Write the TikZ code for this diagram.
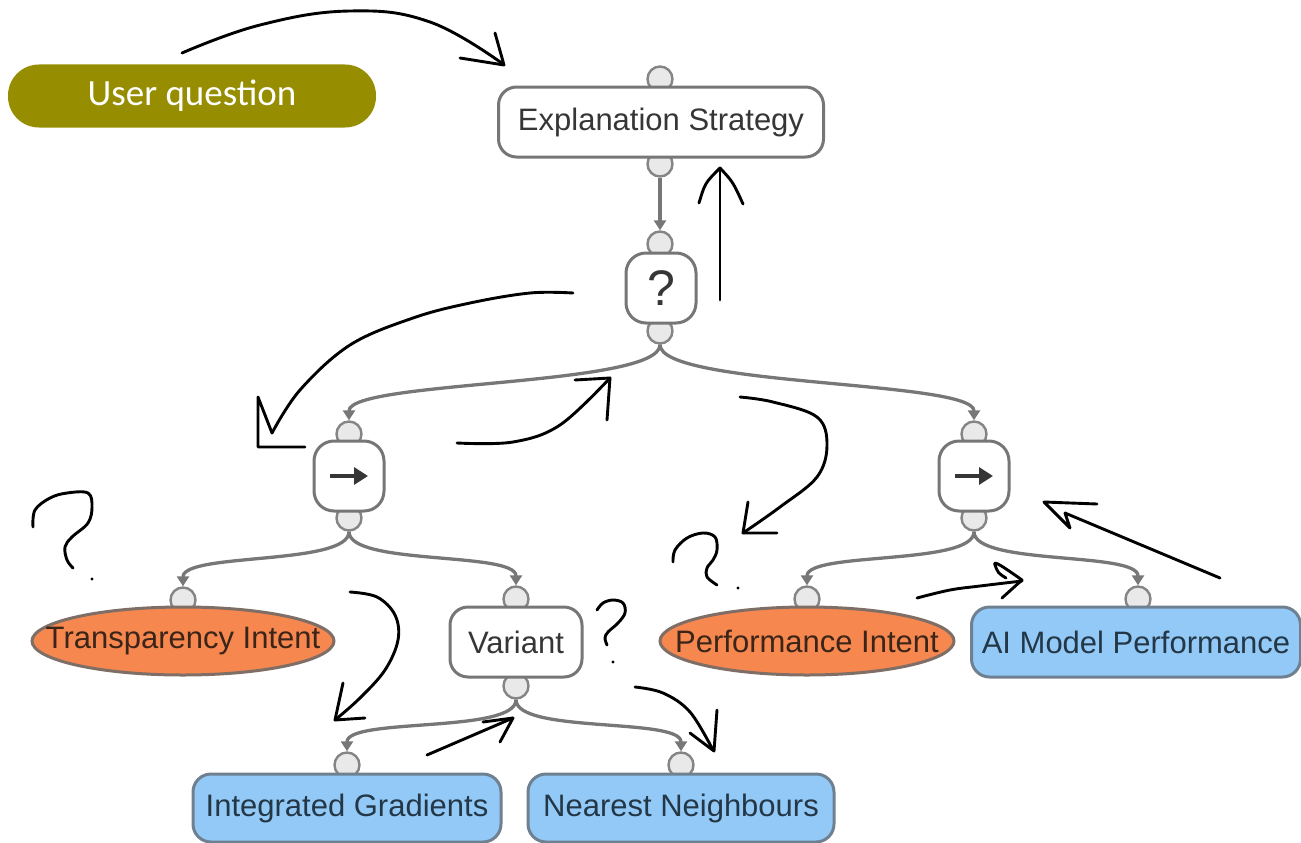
\documentclass[tikz,border=0pt]{standalone}
\usepackage{fontspec}
\setmainfont{Liberation Sans}
\newfontfamily\calibri{Carlito}
\usetikzlibrary{arrows.meta,shapes.geometric}

\definecolor{uqolive}{HTML}{968E00}
\definecolor{edgegray}{HTML}{777777}
\definecolor{portfill}{HTML}{E9E9E9}
\definecolor{portdraw}{HTML}{858585}
\definecolor{boxdraw}{HTML}{767676}
\definecolor{boxtext}{HTML}{363636}
\definecolor{intentfill}{HTML}{F5874F}
\definecolor{intentdraw}{HTML}{7E6E66}
\definecolor{intenttext}{HTML}{3B2418}
\definecolor{leaffill}{HTML}{92C9F7}
\definecolor{leafdraw}{HTML}{6F8090}
\definecolor{leaftext}{HTML}{243746}

\begin{document}
\begin{tikzpicture}[x=1pt,y=-1pt,
  nodefont/.style={font=\fontsize{31}{36}\selectfont},
  box/.style={draw=boxdraw, line width=3pt, rounded corners=18pt, fill=white,
    text=boxtext, nodefont, inner sep=0pt, minimum height=70pt},
  ctrl/.style={box, minimum width=70pt, minimum height=70pt, rounded corners=20pt},
  leaf/.style={box, fill=leaffill, draw=leafdraw, text=leaftext},
  intent/.style={ellipse, draw=intentdraw, fill=intentfill, line width=3pt,
    minimum width=302pt, minimum height=68pt, inner sep=0pt},
  intentlabel/.style={text=intenttext, nodefont, inner sep=0pt},
  uqbox/.style={fill=uqolive, rounded corners=31pt, minimum width=368pt,
    minimum height=63pt, text=white, font=\calibri\fontsize{37}{40}\selectfont},
  port/.style={circle, draw=portdraw, fill=portfill, line width=2.4pt,
    minimum size=25pt, inner sep=0pt},
  edge/.style={draw=edgegray, line width=3.3pt, -{Triangle[length=10pt,width=12pt]}},
  seqarrow/.style={draw=boxtext, line width=3.2pt, -{Triangle[length=14pt,width=17pt]}},
  hand/.style={draw=black, line width=2.9pt, line cap=round, line join=round},
  handdot/.style={fill=black}
]
\useasboundingbox (0,0) rectangle (1301,843);

% ports (drawn first so that the boxes overlap them)
\node[port] (es-in)   at (660,79)  {};
\node[port] (es-out)  at (660,164) {};
\node[port] (sel-in)  at (660,244) {};
\node[port] (sel-out) at (660,331) {};
\node[port] (seqL-in)  at (349,434) {};
\node[port] (seqL-out) at (349,518) {};
\node[port] (seqR-in)  at (974,434) {};
\node[port] (seqR-out) at (974,518) {};
\node[port] (ti-in)   at (183,600) {};
\node[port] (var-in)  at (516,599) {};
\node[port] (var-out) at (516,686) {};
\node[port] (pi-in)   at (807,599) {};
\node[port] (ai-in)   at (1138,599) {};
\node[port] (ig-in)   at (347,765) {};
\node[port] (nn-in)   at (681,765) {};

% tree nodes
\node[uqbox] (uq) at (192,96) {User question};
\node[box, minimum width=325pt] (es) at (661,122) {Explanation Strategy};
\node[ctrl] (sel) at (661,288) {\fontsize{50}{50}\selectfont ?};
\node[ctrl] (seqL) at (349,476) {};
\node[ctrl] (seqR) at (974,476) {};
\draw[seqarrow] ([xshift=-19pt]seqL.center) -- ([xshift=19pt]seqL.center);
\draw[seqarrow] ([xshift=-19pt]seqR.center) -- ([xshift=19pt]seqR.center);
\node[intent, label={[intentlabel]center:Transparency Intent}] (ti) at (183,641) {};
\node[box, minimum width=132pt] (var) at (516,642) {Variant};
\node[intent, minimum width=294pt, label={[intentlabel]center:Performance Intent}] (pi) at (807,641) {};
\node[leaf, minimum width=329pt] (ai) at (1136,642) {AI Model Performance};
\node[leaf, minimum width=308pt, minimum height=68pt] (ig) at (347,808) {Integrated Gradients};
\node[leaf, minimum width=306pt, minimum height=68pt] (nn) at (681,808) {Nearest Neighbours};

% tree edges
\draw[edge] (es-out.south) -- (sel-in.north);
\draw[edge] (sel-out.south) .. controls +(0,42) and +(0,-40) .. (seqL-in.north);
\draw[edge] (sel-out.south) .. controls +(0,42) and +(0,-40) .. (seqR-in.north);
\draw[edge] (seqL-out.south) .. controls +(0,34) and +(0,-34) .. (ti-in.north);
\draw[edge] (seqL-out.south) .. controls +(0,34) and +(0,-34) .. (var-in.north);
\draw[edge] (seqR-out.south) .. controls +(0,34) and +(0,-34) .. (pi-in.north);
\draw[edge] (seqR-out.south) .. controls +(0,34) and +(0,-34) .. (ai-in.north);
\draw[edge] (var-out.south) .. controls +(0,34) and +(0,-34) .. (ig-in.north);
\draw[edge] (var-out.south) .. controls +(0,34) and +(0,-34) .. (nn-in.north);

% hand-drawn annotation strokes
\draw[hand] plot[smooth, tension=0.7] coordinates {(182,53) (260,25) (350,11) (430,22) (503,64)};
\draw[hand] (495,33) -- (504,65) -- (460,58);

\draw[hand] (720,300) -- (720,170);
\draw[hand] (699,203) .. controls (705,183) .. (720,168) .. controls (733,182) .. (743,204);

\draw[hand] plot[smooth, tension=0.6] coordinates {(573,293) (530,293) (470,303) (413,318) (350,345) (300,390) (272,433)};
\draw[hand] (272,433) -- (258,397) -- (258,447) -- (305,447);

\draw[hand] plot[smooth, tension=0.6] coordinates {(457,443) (513,442) (560,425) (610,378)};
\draw[hand] (575,380) -- (610,378) -- (607,420);

\draw[hand] plot[smooth, tension=0.6] coordinates {(740,397) (773,402) (817,417) (827,445) (817,477) (780,507) (743,533)};
\draw[hand] (748,502) -- (743,533) -- (777,533);

\draw[hand] plot[smooth, tension=0.6] coordinates {(917,598) (950,590) (980,586) (1022,581)};
\draw[hand] (1002,598) -- (1022,580) .. controls (1005,568) and (992,559) .. (995,565) .. controls (998,573) .. (1006,578);

\draw[hand] (1220,578) -- (1065,513) -- (1070,528) -- (1044,502) -- (1097,504);

\draw[hand] plot[smooth, tension=0.6] coordinates {(350,592) (377,597) (395,615) (398,640) (385,670) (360,698) (335,720)};
\draw[hand] (343,683) -- (335,720) -- (365,718);

\draw[hand] (427,755) -- (513,718);
\draw[hand] (483,722) -- (513,718) -- (500,742);

\draw[hand] plot[smooth, tension=0.6] coordinates {(635,687) (663,693) (690,712) (713,750)};
\draw[hand] (690,733) -- (714,751) -- (717,710);

% hand-drawn question marks
\draw[hand] plot[smooth, tension=0.6] coordinates {(33,527) (35,510) (50,498) (67,493) (88,493) (92,507) (88,523) (72,537) (65,547) (67,560) (73,568)};
\fill[handdot] (92,579) circle (1.6);
\draw[hand] plot[smooth, tension=0.6] coordinates {(673,562) (675,550) (687,538) (703,533) (715,537) (717,550) (713,560) (707,568) (707,577) (717,585)};
\fill[handdot] (738,588) circle (1.6);
\draw[hand] plot[smooth, tension=0.6] coordinates {(597,610) (603,603) (613,600) (623,603) (625,613) (618,623) (608,632) (605,638) (607,645)};
\fill[handdot] (613,662) circle (1.6);
\end{tikzpicture}
\end{document}
